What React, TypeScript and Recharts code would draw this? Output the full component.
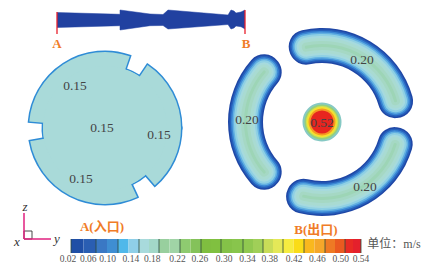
import {
  Area,
  Bar,
  BarChart,
  ComposedChart,
  Pie,
  PieChart,
  ReferenceArea,
  ReferenceLine,
  Scatter,
  XAxis,
  YAxis,
} from "recharts";

const W = 425;
const H = 266;

// side view of the tube: axial position, upper and lower wall
const TUBE_AXIAL = [57, 120, 120, 150, 163, 168, 228, 231, 234, 236, 241, 245];
const TUBE_TOP = [12.5, 14.3, 10, 14, 14.5, 10, 15, 10, 11, 13, 12, 10];
const TUBE_BOTTOM = [27.5, 25.7, 30, 25.7, 25.5, 29, 24.5, 29, 28, 26, 26.7, 29];

// inlet disc: angular extent (deg) and radius of each piece of the rim
const INLET_SPANS = [[0, 56], [56, 71], [71, 175], [175, 190], [190, 295], [295, 311], [311, 360]];
const INLET_RADII = [76, 62, 76, 62, 76, 62, 76];

// outlet: three curved channels, contour levels from the wall inward
const OUTLET_SPANS = [[3, 115], [126, 234], [243, 356]];
const CHANNEL_INSETS = [0, 1.5, 3, 4.5, 6, 8, 10, 13, 16, 19];
const CHANNEL_COLORS = ["#1f47a6", "#2660bb", "#3a86d4", "#62b0e2", "#8fd0e4", "#a6dade", "#a9dbd2", "#a5d8c4", "#9dd5b6", "#94d0a8"];

// centre jet, outer ring to core
const JET_RADII = [19.5, 17.5, 16, 15, 13.5, 11.5];
const JET_COLORS = ["#86c9c4", "#98d078", "#d6e24e", "#f7e02c", "#f59a22", "#e7251f"];

const VELOCITY_LABELS = ["0.15", "0.15", "0.15", "0.15", "0.20", "0.20", "0.20", "0.52"];

// colour scale: two shades per step, step widths
const STEP_WIDTHS = [25, 22, 21, 20, 21, 21, 20, 22, 20, 20, 21, 21, 20, 16];
const BAND_COLORS = [
  "#1f4fa6", "#2a5eb2", "#3a78c4", "#3f8ed2", "#4fb8ea", "#8fcfe8", "#a8dadc", "#a3d8c8",
  "#98cf9e", "#a0d4a6", "#8ecb70", "#84c25a", "#7fbe40", "#80c040", "#84c248", "#88c54c",
  "#90c850", "#a0cf58", "#c8dc58", "#e4e858", "#f6ec40", "#fadc18", "#f9b81e", "#f5a72a",
  "#ee7a24", "#ea5a20", "#e82a24", "#e4202c",
];
const BAND_LABELS = ["0.02", "0.06", "0.10", "0.14", "0.18", "0.22", "0.26", "0.30", "0.34", "0.38", "0.42", "0.46", "0.50", "0.54"];

const tubeRows = TUBE_AXIAL.map((x, i) => ({ x, wall: [TUBE_TOP[i], TUBE_BOTTOM[i]] }));
const barSpan = STEP_WIDTHS.reduce((s, v) => s + v, 0);
const bandRow: Record<string, unknown> = { name: "v" };
BAND_COLORS.forEach((_, i) => {
  bandRow[`b${i}`] = STEP_WIDTHS[Math.floor(i / 2)] / 2;
});
const stepEdges = STEP_WIDTHS.reduce((acc, v) => [...acc, acc[acc.length - 1] + v], [0]);
const bandTicks = BAND_LABELS.map((_, i) => (i * barSpan) / (BAND_LABELS.length - 1));
const tickNudge = [-3, -5, -8, -7, -8, -5, -5, -3, -2, -2, 0, 1, 2, 0];

const ORANGE = "#f07c28";
const PINK = "#e0207f";

const velocitySpots = [
  [75, 85], [102, 127], [159, 134], [81, 178], [362, 59], [247, 119], [365, 186], [322, 122],
];
const velocityRows = VELOCITY_LABELS.map((text, i) => ({ x: velocitySpots[i][0], y: velocitySpots[i][1], text }));
const endRows = [{ x: 57, y: 43, text: "A" }, { x: 246, y: 43, text: "B" }];
const sectionRows = [{ x: 102, y: 226, text: "A(入口)" }, { x: 316, y: 229, text: "B(出口)" }];
const axisRows = [{ x: 25, y: 206, text: "z" }, { x: 17, y: 241, text: "x" }, { x: 57, y: 238, text: "y" }];
const unitRows = [{ x: 394, y: 244, text: "单位：m/s" }];

const textShape = (style: Record<string, unknown>) => (p: any) => (
  <text x={p.cx} y={p.cy} textAnchor="middle" dominantBaseline="central" {...style}>
    {p.payload.text}
  </text>
);

const slice = [{ v: 1 }];

function Sections() {
  const pies: any[] = [];
  // inlet disc, rim first then the fill on top so only the outer half of the stroke stays
  INLET_SPANS.forEach(([a, b], i) => {
    pies.push(
      <Pie key={`rim${i}`} data={slice} dataKey="v" cx={105} cy={128} outerRadius={INLET_RADII[i]} innerRadius={0}
        startAngle={a} endAngle={b} fill="#a9dad9" stroke="#2f8cd6" strokeWidth={3} isAnimationActive={false} />
    );
  });
  INLET_SPANS.forEach(([a, b], i) => {
    pies.push(
      <Pie key={`fill${i}`} data={slice} dataKey="v" cx={105} cy={128} outerRadius={INLET_RADII[i]} innerRadius={0}
        startAngle={a} endAngle={b} fill="#a9dad9" stroke="none" isAnimationActive={false} />
    );
  });
  // solid middle hides the seams between the rim pieces
  pies.push(
    <Pie key="core" data={slice} dataKey="v" cx={105} cy={128} outerRadius={62} innerRadius={0}
      startAngle={0} endAngle={360} fill="#a9dad9" stroke="none" isAnimationActive={false} />
  );
  OUTLET_SPANS.forEach(([a, b], i) => {
    CHANNEL_INSETS.forEach((inset, j) => {
      const da = (inset / 76) * (180 / Math.PI);
      const inner = 59 + inset;
      const outer = 94 - inset;
      pies.push(
        <Pie key={`ch${i}-${j}`} data={slice} dataKey="v" cx={322} cy={122} innerRadius={inner} outerRadius={outer}
          startAngle={a + da} endAngle={b - da} cornerRadius={(outer - inner) / 2 - 0.5}
          fill={CHANNEL_COLORS[j]} stroke="none" isAnimationActive={false} />
      );
    });
  });
  JET_RADII.forEach((r, i) => {
    pies.push(
      <Pie key={`jet${i}`} data={slice} dataKey="v" cx={322} cy={122} innerRadius={0} outerRadius={r}
        startAngle={0} endAngle={360} fill={JET_COLORS[i]} stroke="none" isAnimationActive={false} />
    );
  });
  return (
    <PieChart width={W} height={H} margin={{ top: 0, right: 0, bottom: 0, left: 0 }}>
      {pies}
    </PieChart>
  );
}

function Overlay() {
  return (
    <ComposedChart width={W} height={H} margin={{ top: 0, right: 0, bottom: 0, left: 0 }}>
      <XAxis type="number" dataKey="x" domain={[0, W]} hide />
      <YAxis type="number" dataKey="y" domain={[0, H]} reversed hide />
      <Area data={tubeRows} dataKey="wall" type="linear" fill="#2141a0" fillOpacity={1} stroke="#2141a0" strokeWidth={0.5} dot={false} isAnimationActive={false} />
      <ReferenceLine segment={[{ x: 57, y: 12 }, { x: 57, y: 34 }]} stroke="#e8202c" strokeWidth={1.3} />
      <ReferenceLine segment={[{ x: 245, y: 10 }, { x: 245, y: 34 }]} stroke="#e8202c" strokeWidth={1.3} />
      <ReferenceLine segment={[{ x: 24, y: 213 }, { x: 24, y: 239 }]} stroke={PINK} strokeWidth={1.5} />
      <ReferenceLine segment={[{ x: 24, y: 239 }, { x: 51, y: 239 }]} stroke={PINK} strokeWidth={1.5} />
      <ReferenceArea x1={24} x2={32} y1={231} y2={239} fill="none" stroke="#333" strokeWidth={0.9} />
      <Scatter data={velocityRows} isAnimationActive={false}
        shape={textShape({ fontFamily: "Liberation Serif", fontSize: 13.5, fill: "#444" })} />
      <Scatter data={endRows} isAnimationActive={false}
        shape={textShape({ fontFamily: "Liberation Serif", fontSize: 13, fontWeight: 700, fill: ORANGE })} />
      <Scatter data={sectionRows} isAnimationActive={false}
        shape={textShape({ fontFamily: "Liberation Serif, Noto Sans CJK SC", fontSize: 13, fontWeight: 700, fill: ORANGE })} />
      <Scatter data={axisRows} isAnimationActive={false}
        shape={textShape({ fontFamily: "Liberation Serif", fontSize: 13, fontStyle: "italic", fill: "#333" })} />
      <Scatter data={unitRows} isAnimationActive={false}
        shape={textShape({ fontFamily: "Liberation Serif, Noto Sans CJK SC", fontSize: 12, fill: "#555" })} />
    </ComposedChart>
  );
}

function ColorBar() {
  return (
    <BarChart layout="vertical" width={W} height={27} data={[bandRow]} barCategoryGap={0}
      margin={{ top: 0, right: 64, bottom: 0, left: 71 }}>
      <XAxis type="number" domain={[0, barSpan]} ticks={bandTicks} interval={0} height={13}
        axisLine={false} tickLine={false}
        tick={(p: any) => (
          <text x={p.x + tickNudge[p.index]} y={p.y + 1} textAnchor="middle"
            fontFamily="Liberation Serif" fontSize={9.5} fill="#555">
            {BAND_LABELS[p.index]}
          </text>
        )} />
      <YAxis type="category" dataKey="name" hide />
      {BAND_COLORS.map((c, i) => (
        <Bar key={c + i} dataKey={`b${i}`} stackId="scale" fill={c} isAnimationActive={false} />
      ))}
      {stepEdges.map((d) => (
        <ReferenceLine key={d} x={d} stroke="#2f4a3a" strokeWidth={0.8} />
      ))}
    </BarChart>
  );
}

export default function App() {
  const layer = { position: "absolute" as const, left: 0 };
  return (
    <div style={{ position: "absolute", left: 0, top: 0, width: W, height: H, background: "#fff" }}>
      <div style={{ ...layer, top: 0 }}><Sections /></div>
      <div style={{ ...layer, top: 0 }}><Overlay /></div>
      <div style={{ ...layer, top: 239 }}><ColorBar /></div>
    </div>
  );
}
